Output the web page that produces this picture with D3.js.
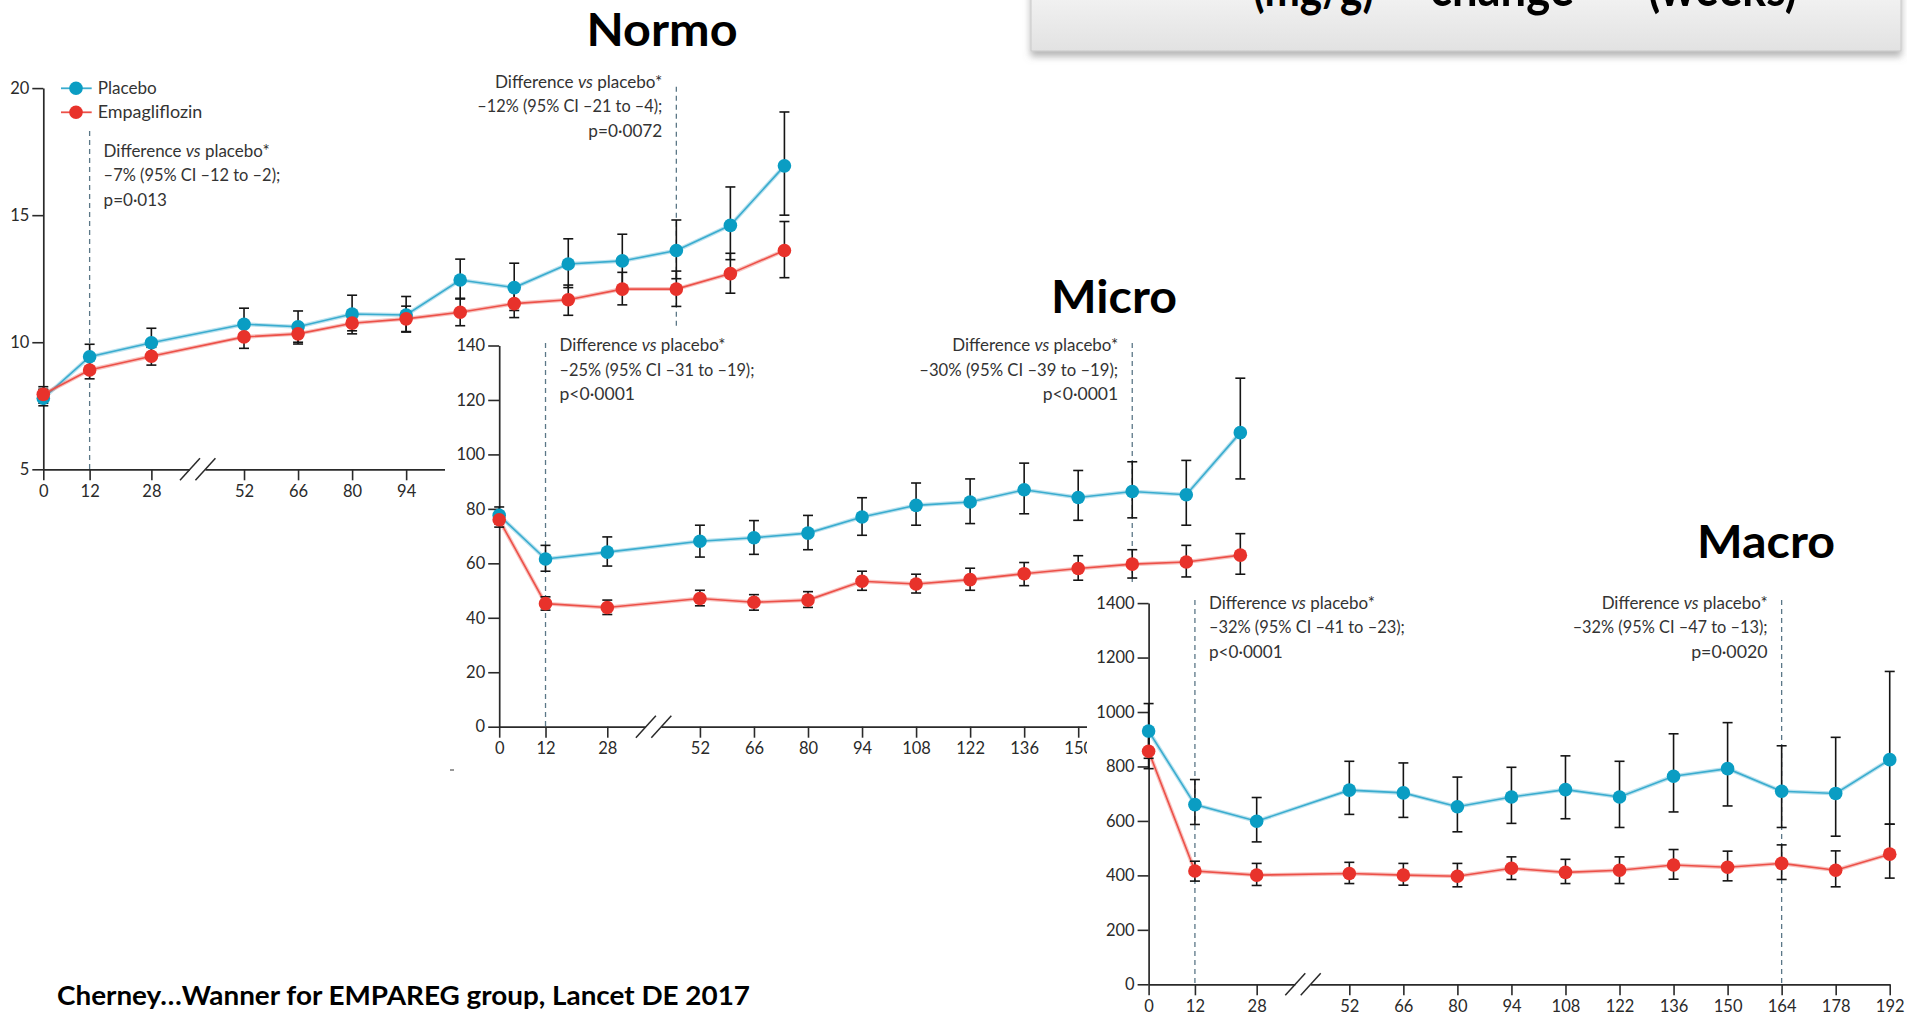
<!DOCTYPE html>
<html><head><meta charset="utf-8">
<script src="https://cdn.jsdelivr.net/npm/d3@7"></script>
<style>body{margin:0;background:#fff;overflow:hidden;} svg{display:block;}</style>
</head><body>
<svg id="c" width="1907" height="1015"></svg>
<script>
// ---------------- DATA ----------------
const weeks = [0, 12, 28, 52, 66, 80, 94, 108, 122, 136, 150, 164, 178, 192];
const xTickLabels = weeks.map(String);

const normoYTicks = [5, 10, 15, 20];
const microYTicks = [0, 20, 40, 60, 80, 100, 120, 140];
const macroYTicks = [0, 200, 400, 600, 800, 1000, 1200, 1400];

const seriesNames = ["Placebo", "Empagliflozin"];

// Normoalbuminuria (UACR mg/g)
const normoPlacebo   = [7.8, 9.43, 9.98, 10.71, 10.61, 11.11, 11.07, 12.45, 12.15, 13.08, 13.2, 13.61, 14.6, 16.94];
const normoPlaceboHi = [8.15, 9.92, 10.55, 11.34, 11.23, 11.85, 11.8, 13.27, 13.11, 14.07, 14.25, 14.81, 16.11, 19.06];
const normoPlaceboLo = [7.5, 8.95, 9.45, 10.1, 10.0, 10.45, 10.4, 11.7, 11.25, 12.15, 12.2, 12.5, 13.25, 15.0];
const normoEmpa      = [7.95, 8.91, 9.45, 10.21, 10.33, 10.75, 10.92, 11.18, 11.52, 11.67, 12.09, 12.09, 12.7, 13.61];
const normoEmpaHi    = [8.25, 9.28, 9.8, 10.66, 10.73, 11.17, 11.42, 11.73, 12.07, 12.25, 12.75, 12.8, 13.5, 14.75];
const normoEmpaLo    = [7.6, 8.56, 9.1, 9.76, 9.93, 10.33, 10.42, 10.65, 10.97, 11.06, 11.47, 11.41, 11.93, 12.54];

// Microalbuminuria
const microPlacebo   = [77.6, 61.6, 64.1, 68.1, 69.4, 71.1, 77.0, 81.3, 82.5, 87.0, 84.2, 86.4, 85.2, 108.0];
const microPlaceboHi = [80.7, 66.6, 69.7, 74.0, 75.7, 77.6, 84.1, 89.5, 91.0, 96.8, 94.1, 97.3, 97.8, 128.0];
const microPlaceboLo = [74.5, 57.1, 59.0, 62.3, 63.3, 65.0, 70.3, 74.0, 74.6, 78.2, 75.8, 76.7, 74.0, 91.0];
const microEmpa      = [76.0, 45.2, 43.8, 47.1, 45.7, 46.5, 53.4, 52.4, 54.0, 56.2, 58.1, 59.7, 60.5, 63.0];
const microEmpaHi    = [79.0, 47.7, 46.5, 50.1, 48.5, 49.6, 57.1, 56.0, 58.2, 60.3, 62.8, 65.0, 66.6, 70.9];
const microEmpaLo    = [73.3, 42.8, 41.2, 44.4, 42.8, 43.8, 50.1, 49.1, 50.1, 51.8, 53.8, 54.6, 55.0, 56.0];

// Macroalbuminuria
const macroPlacebo   = [930, 660, 599, 713, 703, 652, 688, 715, 688, 764, 792, 709, 701, 825];
const macroPlaceboHi = [1031, 752, 686, 819, 813, 761, 797, 839, 819, 920, 961, 876, 907, 1149];
const macroPlaceboLo = [830, 587, 523, 624, 613, 560, 591, 608, 576, 633, 655, 576, 544, 588];
const macroEmpa      = [856, 416, 401, 407, 401, 397, 426, 411, 419, 438, 430, 444, 419, 478];
const macroEmpaHi    = [920, 452, 444, 448, 444, 444, 468, 459, 468, 495, 489, 512, 490, 588];
const macroEmpaLo    = [792, 379, 363, 370, 364, 358, 385, 370, 370, 386, 380, 385, 358, 390];

// Annotations (week of dashed line, text lines)
const normoAnnWeeks = [12, 164];
const normoAnnText = [
  ["Difference |vs| placebo*", "–7% (95% CI –12 to –2);", "p=0·013"],
  ["Difference |vs| placebo*", "–12% (95% CI –21 to –4);", "p=0·0072"]
];
const microAnnWeeks = [12, 164];
const microAnnText = [
  ["Difference |vs| placebo*", "–25% (95% CI –31 to –19);", "p<0·0001"],
  ["Difference |vs| placebo*", "–30% (95% CI –39 to –19);", "p<0·0001"]
];
const macroAnnWeeks = [12, 164];
const macroAnnText = [
  ["Difference |vs| placebo*", "–32% (95% CI –41 to –23);", "p<0·0001"],
  ["Difference |vs| placebo*", "–32% (95% CI –47 to –13);", "p=0·0020"]
];

const panelTitles = ["Normo", "Micro", "Macro"];
const citation = "Cherney…Wanner for EMPAREG  group, Lancet DE 2017";
const headerPieces = ["(mg/g)", "change", "(weeks)"];

// ---------------- STYLE / LAYOUT ----------------
const COL_P = "#0a9dc3", COL_P_LINE = "#3aaccf";
const COL_E = "#e8322b", COL_E_LINE = "#ec5048";
const FONT = "Lato, 'Open Sans', 'DejaVu Sans', sans-serif";
const TITLE_FONT = "Lato, 'Open Sans', sans-serif";
const PX_PER_WEEK = 3.86;
const PLOT_H = 381.2;

const svg = d3.select("#c");
const defs = svg.append("defs");
const grad = defs.append("linearGradient").attr("id", "boxg").attr("x1", 0).attr("y1", 0).attr("x2", 0).attr("y2", 1);
grad.append("stop").attr("offset", "0%").attr("stop-color", "#f4f4f4");
grad.append("stop").attr("offset", "100%").attr("stop-color", "#e2e2e2");
const flt = defs.append("filter").attr("id", "shadow").attr("x", "-5%").attr("y", "-50%").attr("width", "110%").attr("height", "220%");
flt.append("feDropShadow").attr("dx", 0).attr("dy", 5).attr("stdDeviation", 3.5).attr("flood-color", "#777").attr("flood-opacity", 0.55);

const panels = [
  { x0: 43.3, y0: 469.3, domain: [5, 20], yTicks: normoYTicks,
    P: normoPlacebo, PHi: normoPlaceboHi, PLo: normoPlaceboLo,
    E: normoEmpa, EHi: normoEmpaHi, ELo: normoEmpaLo,
    annWeeks: normoAnnWeeks, annText: normoAnnText,
    annTop: [150.7, 81.7], dashTop: [131, 86.7],
    annWidths: [[166, 176.7, 63.3], [167.3, 185, 74]],
    cover: null, legend: true,
    title: { text: panelTitles[0], cx: 662, base: 46, w: 151 } },
  { x0: 499.2, y0: 726.7, domain: [0, 140], yTicks: microYTicks,
    P: microPlacebo, PHi: microPlaceboHi, PLo: microPlaceboLo,
    E: microEmpa, EHi: microEmpaHi, ELo: microEmpaLo,
    annWeeks: microAnnWeeks, annText: microAnnText,
    annTop: [345, 345], dashTop: [343, 343],
    annWidths: [[166, 195, 75.5], [166, 199, 75.5]],
    cover: { x: 445, y: 329, w: 1462, h: 686 }, legend: false,
    title: { text: panelTitles[1], cx: 1114, base: 313, w: 126 } },
  { x0: 1148.6, y0: 984.3, domain: [0, 1400], yTicks: macroYTicks,
    P: macroPlacebo, PHi: macroPlaceboHi, PLo: macroPlaceboLo,
    E: macroEmpa, EHi: macroEmpaHi, ELo: macroEmpaLo,
    annWeeks: macroAnnWeeks, annText: macroAnnText,
    annTop: [602.7, 602.7], dashTop: [600, 600],
    annWidths: [[166, 196, 73.8], [166, 195, 76.5]],
    cover: { x: 1087, y: 586, w: 820, h: 429 }, legend: false,
    title: { text: panelTitles[2], cx: 1766, base: 558, w: 138 } }
];

function addRichText(sel, str) {
  const parts = str.split("|");
  parts.forEach((p, i) => {
    if (!p) return;
    sel.append("tspan").attr("font-style", i % 2 === 1 ? "italic" : "normal").text(p);
  });
}

panels.forEach((pn, pi) => {
  if (pn.cover) {
    svg.append("rect").attr("x", pn.cover.x).attr("y", pn.cover.y)
      .attr("width", pn.cover.w).attr("height", pn.cover.h).attr("fill", "#fff");
  }
  const top = pn.y0 - PLOT_H;
  const g = svg.append("g").attr("transform", `translate(${pn.x0},${top})`);
  const x = d3.scaleLinear().domain([0, 192]).range([0, 192 * PX_PER_WEEK]);
  const y = d3.scaleLinear().domain(pn.domain).range([PLOT_H, 0]);

  // dashed reference lines
  pn.annWeeks.forEach((w, k) => {
    g.append("line").attr("x1", x(w)).attr("x2", x(w))
      .attr("y1", pn.dashTop[k] - top).attr("y2", PLOT_H)
      .attr("stroke", "#5b7787").attr("stroke-width", 1.3).attr("stroke-dasharray", "5,4");
  });

  // axes
  const ya = g.append("g").call(d3.axisLeft(y).tickValues(pn.yTicks).tickFormat(d3.format("d"))
    .tickSize(11).tickPadding(3).tickSizeOuter(0));
  const xa = g.append("g").attr("transform", `translate(0,${PLOT_H})`)
    .call(d3.axisBottom(x).tickValues(weeks).tickFormat((d, i) => xTickLabels[i]).tickSize(11).tickPadding(5).tickSizeOuter(0));
  [ya, xa].forEach(a => {
    a.select(".domain").attr("stroke", "#2a2a2a").attr("stroke-width", 1.7);
    a.selectAll(".tick line").attr("stroke", "#2a2a2a").attr("stroke-width", 1.6);
    a.selectAll("text").attr("font-family", FONT).attr("font-size", 16.5).attr("fill", "#2a2a2a");
  });

  // axis break
  g.append("line").attr("x1", x(38)).attr("x2", x(42)).attr("y1", PLOT_H).attr("y2", PLOT_H)
    .attr("stroke", "#fff").attr("stroke-width", 4);
  [38, 42].forEach(w => {
    g.append("line").attr("x1", x(w) - 10).attr("y1", PLOT_H + 11).attr("x2", x(w) + 10).attr("y2", PLOT_H - 11)
      .attr("stroke", "#2a2a2a").attr("stroke-width", 1.5);
  });

  // annotations
  pn.annWeeks.forEach((w, k) => {
    const anchor = k === 0 ? "start" : "end";
    const tx = k === 0 ? x(w) + 14 : x(w) - 14;
    pn.annText[k].forEach((line, li) => {
      const t = g.append("text").attr("x", tx).attr("y", pn.annTop[k] - top + 6 + li * 24.5)
        .attr("text-anchor", anchor).attr("font-family", FONT).attr("font-size", 16.5).attr("fill", "#333")
        .attr("textLength", pn.annWidths[k][li]).attr("lengthAdjust", "spacingAndGlyphs");
      addRichText(t, line);
    });
  });

  // lines
  const lineGen = vals => d3.line().x((d, i) => x(weeks[i])).y(d => y(d))(vals);
  [[pn.P, COL_P_LINE], [pn.E, COL_E_LINE]].forEach(([vals, c]) => {
    g.append("path").attr("d", lineGen(vals)).attr("fill", "none").attr("stroke", c).attr("stroke-opacity", 0.35).attr("stroke-width", 4);
    g.append("path").attr("d", lineGen(vals)).attr("fill", "none").attr("stroke", c).attr("stroke-width", 1.6);
  });

  // error bars
  [[pn.PLo, pn.PHi], [pn.ELo, pn.EHi]].forEach(([lo, hi]) => {
    const eb = g.append("g").attr("stroke", "#151515").attr("stroke-width", 1.6);
    weeks.forEach((w, i) => {
      const cx = x(w);
      eb.append("line").attr("x1", cx).attr("x2", cx).attr("y1", y(lo[i])).attr("y2", y(hi[i]));
      eb.append("line").attr("x1", cx - 5).attr("x2", cx + 5).attr("y1", y(lo[i])).attr("y2", y(lo[i]));
      eb.append("line").attr("x1", cx - 5).attr("x2", cx + 5).attr("y1", y(hi[i])).attr("y2", y(hi[i]));
    });
  });

  // points
  [[pn.P, COL_P], [pn.E, COL_E]].forEach(([vals, c]) => {
    g.append("g").selectAll("circle").data(vals).join("circle")
      .attr("cx", (d, i) => x(weeks[i])).attr("cy", d => y(d)).attr("r", 6.8).attr("fill", c);
  });

  // legend
  if (pn.legend) {
    const items = [[seriesNames[0], COL_P, COL_P_LINE, 88.3], [seriesNames[1], COL_E, COL_E_LINE, 112.3]];
    const lw = [59, 104.6];
    items.forEach(([name, c, lc, yy], k) => {
      svg.append("line").attr("x1", 61).attr("x2", 91.7).attr("y1", yy).attr("y2", yy).attr("stroke", lc).attr("stroke-width", 1.8);
      svg.append("circle").attr("cx", 76).attr("cy", yy).attr("r", 6.8).attr("fill", c);
      svg.append("text").attr("x", 97.7).attr("y", yy + 6).attr("font-family", FONT).attr("font-size", 17)
        .attr("fill", "#333").attr("textLength", lw[k]).attr("lengthAdjust", "spacingAndGlyphs").text(name);
    });
  }

  // title
  svg.append("text").attr("x", pn.title.cx).attr("y", pn.title.base).attr("text-anchor", "middle")
    .attr("font-family", TITLE_FONT).attr("font-weight", 700).attr("font-size", 45)
    .attr("textLength", pn.title.w).attr("lengthAdjust", "spacingAndGlyphs").attr("fill", "#000")
    .text(pn.title.text);
});

// small remnant mark
svg.append("line").attr("x1", 450).attr("x2", 454).attr("y1", 770).attr("y2", 770).attr("stroke", "#555").attr("stroke-width", 1.2);

// citation
svg.append("text").attr("x", 57).attr("y", 1005).attr("font-family", TITLE_FONT).attr("font-weight", 700)
  .attr("font-size", 26).attr("textLength", 693).attr("lengthAdjust", "spacingAndGlyphs").attr("fill", "#000")
  .text(citation);

// header box (its text is cut by the top edge of the slide, as in the source)
svg.append("rect").attr("x", 1031).attr("y", -12).attr("width", 870).attr("height", 63)
  .attr("fill", "url(#boxg)").attr("stroke", "#c9c9c9").attr("stroke-width", 1).attr("filter", "url(#shadow)");
const hdr = [[headerPieces[0], 1253, 121], [headerPieces[1], 1430, 144], [headerPieces[2], 1648, 149]];
hdr.forEach(([t, hx, hw]) => {
  svg.append("text").attr("x", hx).attr("y", 6).attr("font-family", TITLE_FONT).attr("font-weight", 700)
    .attr("font-size", 52).attr("textLength", hw).attr("lengthAdjust", "spacingAndGlyphs").attr("fill", "#000").text(t);
});
</script>
</body></html>
